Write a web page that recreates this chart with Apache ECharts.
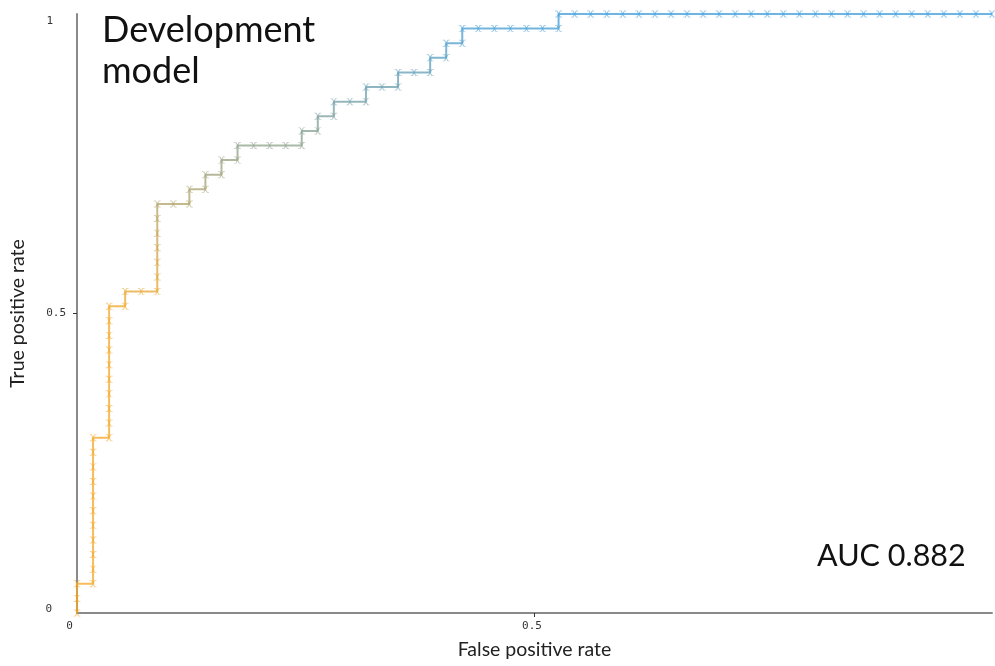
<!DOCTYPE html>
<html>
<head>
<meta charset="utf-8">
<script src="https://cdn.jsdelivr.net/npm/echarts@6/dist/echarts.min.js"></script>
<style>
  html, body { margin: 0; padding: 0; background: #ffffff; }
  #chart { width: 995px; height: 666px; }
</style>
</head>
<body>
<div id="chart"></div>
<script>
// ROC operating points as [false positive count, true positive count]
const rocCounts = [
  [0,0],[0,1],[0,2],
  [1,2],[1,3],[1,4],[1,5],[1,6],[1,7],[1,8],[1,9],[1,10],[1,11],[1,12],
  [2,12],[2,13],[2,14],[2,15],[2,16],[2,17],[2,18],[2,19],[2,20],[2,21],
  [3,21],[3,22],
  [4,22],
  [5,22],[5,23],[5,24],[5,25],[5,26],[5,27],[5,28],
  [6,28],
  [7,28],[7,29],
  [8,29],[8,30],
  [9,30],[9,31],
  [10,31],[10,32],
  [11,32],[12,32],[13,32],
  [14,32],[14,33],
  [15,33],[15,34],
  [16,34],[16,35],
  [17,35],
  [18,35],[18,36],
  [19,36],
  [20,36],[20,37],
  [21,37],
  [22,37],[22,38],
  [23,38],[23,39],
  [24,39],[24,40],
  [25,40],[26,40],[27,40],[28,40],[29,40],
  [30,40],[30,41],
  [31,41],[32,41],[33,41],[34,41],[35,41],[36,41],[37,41],[38,41],[39,41],
  [40,41],[41,41],[42,41],[43,41],[44,41],[45,41],[46,41],[47,41],[48,41],
  [49,41],[50,41],[51,41],[52,41],[53,41],[54,41],[55,41],[56,41],[57,41]
];
const negativeTotal = 57;
const positiveTotal = 41;
const axisTicks = [0, 0.5, 1];
const titleLines = ['Development', 'model'];
const aucText = 'AUC 0.882';

const rocPoints = rocCounts.map(([fp, tp]) => [fp / negativeTotal, tp / positiveTotal]);

// small "x" marker
const crossMark = 'path://M0,0 L3,0 L5,3.2 L7,0 L10,0 L10,1 L8,1 L5.8,5 L8,9 L10,9 L10,10 L7,10 L5,6.8 L3,10 L0,10 L0,9 L2,9 L4.2,5 L2,1 L0,1 Z';

const chart = echarts.init(document.getElementById('chart'));
const monoFont = '"DejaVu Sans Mono", monospace';
const textFont = 'Lato, "Open Sans", sans-serif';

chart.setOption({
  animation: false,
  backgroundColor: '#ffffff',
  grid: { left: 75, top: 14, width: 922, height: 599, containLabel: false },
  xAxis: {
    type: 'value', min: axisTicks[0], max: axisTicks[2], interval: 0.5,
    name: 'False positive rate', nameLocation: 'middle', nameGap: 27,
    nameTextStyle: { fontFamily: textFont, fontSize: 19.5, color: '#222' },
    axisLine: { lineStyle: { color: '#8a8a8a', width: 2 } },
    axisTick: { show: true, length: 4, customValues: [axisTicks[1]], lineStyle: { color: '#333', width: 1 } },
    splitLine: { show: false },
    axisLabel: {
      margin: 8, fontFamily: monoFont, fontSize: 11, color: '#333',
      formatter: v => v === 0 ? '{z|0}' : v === 0.5 ? '{h|0.5}' : '',
      rich: { z: { padding: [0, 15, 0, 0] }, h: { padding: [0, 5, 0, 0] } }
    }
  },
  yAxis: {
    type: 'value', min: axisTicks[0], max: axisTicks[2], interval: 0.5,
    name: 'True positive rate', nameLocation: 'middle', nameGap: 49,
    nameTextStyle: { fontFamily: textFont, fontSize: 19.5, color: '#222' },
    axisLine: { show: true, lineStyle: { color: '#8a8a8a', width: 2 } },
    axisTick: { show: true, length: 4, customValues: [axisTicks[1]], lineStyle: { color: '#333', width: 1 } },
    splitLine: { show: false },
    axisLabel: {
      margin: 11, fontFamily: monoFont, fontSize: 11, color: '#333',
      formatter: v => v === 0 ? '{lo|0}' : v === 1 ? '{hi|1}' : '{m|0.5}',
      rich: {
        lo: { padding: [0, 14, 7, 0] },
        hi: { padding: [14, 13, 0, 0] },
        m: {}
      }
    }
  },
  visualMap: {
    type: 'continuous', show: false, dimension: 1, min: 0.5, max: 1,
    inRange: { color: ['#f5a623', '#3b9cdb'] }
  },
  series: [{
    type: 'line',
    data: rocPoints,
    showAllSymbol: true,
    symbol: crossMark,
    symbolSize: 7,
    itemStyle: { opacity: 0.55 },
    lineStyle: { width: 2, opacity: 0.75 },
    clip: false
  }],
  graphic: [
    {
      type: 'text', left: 102, top: 10,
      style: {
        text: titleLines.join('\n'), fontFamily: textFont, fontSize: 36,
        lineHeight: 41, fill: '#111'
      }
    },
    {
      type: 'text', left: 817, top: 541,
      style: { text: aucText, fontFamily: textFont, fontSize: 30.5, fill: '#111' }
    }
  ]
});
</script>
</body>
</html>
